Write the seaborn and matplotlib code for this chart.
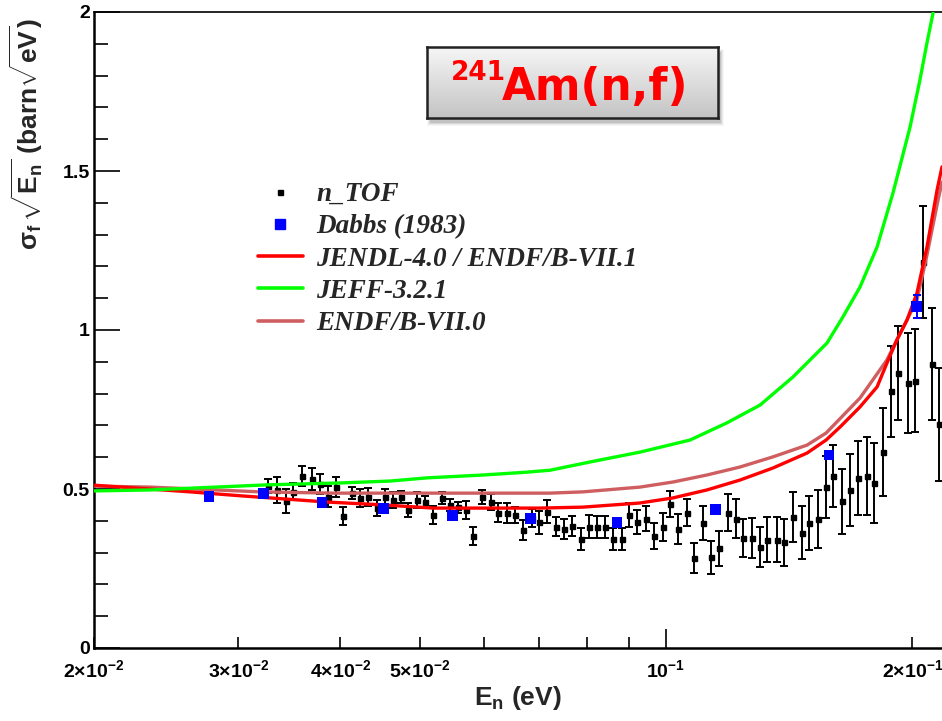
import numpy as np
import matplotlib
matplotlib.use("Agg")
import matplotlib.pyplot as plt
import seaborn as sns
from matplotlib.lines import Line2D
from matplotlib.patches import Rectangle
from matplotlib.colors import LinearSegmentedColormap
from matplotlib.ticker import FixedLocator, FuncFormatter, MultipleLocator, FixedFormatter

# ---------------- data ----------------
# n_TOF measurement: neutron energy (eV), sigma_f*sqrt(E) (barn sqrt(eV)), uncertainty
ntof_energy = [0.03264, 0.03347, 0.03433, 0.03501, 0.03591, 0.03694, 0.03778, 0.03864, 0.03952, 0.04030,
               0.04134, 0.04228, 0.04324, 0.04435, 0.04536, 0.04639, 0.04745, 0.04839, 0.04963, 0.05076,
               0.05192, 0.05325, 0.05446, 0.05570, 0.05697, 0.05810, 0.05959, 0.06112, 0.06233, 0.06393,
               0.06539, 0.06688, 0.06859, 0.06996, 0.07155, 0.07338, 0.07505, 0.07676, 0.07873, 0.08052,
               0.08236, 0.08423, 0.08615, 0.08836, 0.09011, 0.09217, 0.09453, 0.09668, 0.09916, 0.1011,
               0.1034, 0.1061, 0.1082, 0.1110, 0.1135, 0.1161, 0.1191, 0.1218, 0.1242, 0.1274,
               0.1303, 0.1329, 0.1367, 0.1394, 0.1429, 0.1466, 0.1495, 0.1534, 0.1569, 0.1600,
               0.1641, 0.1678, 0.1716, 0.1760, 0.1795, 0.1841, 0.1883, 0.1921, 0.1976, 0.2015,
               0.2061, 0.2114, 0.2156]
ntof_sigma = [0.509, 0.497, 0.462, 0.491, 0.541, 0.531, 0.516, 0.475, 0.506, 0.415,
              0.487, 0.472, 0.475, 0.440, 0.475, 0.465, 0.475, 0.434, 0.465, 0.459,
              0.418, 0.472, 0.450, 0.443, 0.434, 0.352, 0.475, 0.459, 0.425, 0.425,
              0.418, 0.371, 0.409, 0.396, 0.428, 0.381, 0.374, 0.384, 0.343, 0.381,
              0.381, 0.381, 0.343, 0.343, 0.418, 0.396, 0.406, 0.352, 0.381, 0.453,
              0.374, 0.425, 0.283, 0.393, 0.286, 0.314, 0.425, 0.406, 0.346, 0.346,
              0.318, 0.340, 0.340, 0.333, 0.412, 0.362, 0.393, 0.406, 0.506, 0.541,
              0.462, 0.497, 0.535, 0.541, 0.519, 0.616, 0.808, 0.865, 0.833, 0.840,
              1.214, 0.893, 0.704]
ntof_err = [0.022, 0.042, 0.039, 0.027, 0.031, 0.035, 0.031, 0.033, 0.031, 0.028,
            0.020, 0.028, 0.028, 0.024, 0.025, 0.024, 0.019, 0.022, 0.025, 0.020,
            0.028, 0.020, 0.019, 0.017, 0.028, 0.028, 0.022, 0.024, 0.030, 0.031,
            0.025, 0.030, 0.028, 0.036, 0.036, 0.030, 0.031, 0.031, 0.035, 0.036,
            0.035, 0.035, 0.035, 0.035, 0.038, 0.039, 0.039, 0.041, 0.044, 0.042,
            0.046, 0.042, 0.047, 0.052, 0.052, 0.055, 0.058, 0.061, 0.061, 0.063,
            0.064, 0.071, 0.071, 0.074, 0.079, 0.083, 0.086, 0.090, 0.097, 0.097,
            0.102, 0.113, 0.116, 0.123, 0.127, 0.138, 0.143, 0.149, 0.156, 0.162,
            0.176, 0.176, 0.178]

# Dabbs (1983)
dabbs_energy = [0.02764, 0.03219, 0.03799, 0.04521, 0.05490, 0.06821, 0.08712, 0.1148, 0.1582, 0.2026]
dabbs_sigma = [0.475, 0.487, 0.459, 0.440, 0.418, 0.406, 0.396, 0.437, 0.607, 1.075]
dabbs_err = [0.008, 0.008, 0.008, 0.008, 0.008, 0.008, 0.008, 0.008, 0.010, 0.036]

# Evaluated libraries
jendl_energy = [0.02, 0.02621, 0.03042, 0.03282, 0.03853, 0.04510, 0.05192, 0.07015, 0.07918, 0.09295,
                0.1020, 0.1122, 0.1231, 0.1351, 0.1487, 0.1569, 0.1632, 0.1726, 0.1811, 0.1862,
                0.1915, 0.1970, 0.2026, 0.2084, 0.2144, 0.2174]
jendl_sigma = [0.512, 0.491, 0.478, 0.472, 0.459, 0.450, 0.440, 0.440, 0.443, 0.456,
               0.472, 0.497, 0.528, 0.566, 0.613, 0.654, 0.695, 0.758, 0.821, 0.896,
               0.969, 1.031, 1.116, 1.261, 1.440, 1.513]

jeff_energy = [0.02, 0.02341, 0.03254, 0.03996, 0.04600, 0.05105, 0.05976, 0.06763, 0.07215, 0.08075,
               0.09295, 0.1070, 0.1187, 0.1303, 0.1429, 0.1500, 0.1573, 0.1645, 0.1726, 0.1811,
               0.1894, 0.1987, 0.2043, 0.2084, 0.2120]
jeff_sigma = [0.494, 0.497, 0.513, 0.519, 0.525, 0.535, 0.544, 0.553, 0.559, 0.585,
              0.616, 0.654, 0.708, 0.764, 0.852, 0.906, 0.959, 1.041, 1.135, 1.261,
              1.431, 1.638, 1.786, 1.903, 1.997]

endf70_energy = [0.02, 0.02341, 0.03191, 0.03918, 0.05340, 0.07215, 0.07918, 0.09295, 0.1020, 0.1122,
                 0.1231, 0.1351, 0.1487, 0.1569, 0.1726, 0.1862, 0.1915, 0.2026, 0.2084, 0.2150,
                 0.2174]
endf70_sigma = [0.509, 0.506, 0.491, 0.487, 0.487, 0.487, 0.491, 0.506, 0.522, 0.544,
                0.569, 0.601, 0.638, 0.676, 0.786, 0.906, 0.969, 1.094, 1.236, 1.409,
                1.465]

# axis ticks
x_tick_values = [0.02, 0.03, 0.04, 0.05, 0.1, 0.2]
x_tick_labels = [r"$\mathbf{2{\times}10^{-2}}$", r"$\mathbf{3{\times}10^{-2}}$",
                 r"$\mathbf{4{\times}10^{-2}}$", r"$\mathbf{5{\times}10^{-2}}$",
                 r"$\mathbf{10^{-1}}$", r"$\mathbf{2{\times}10^{-1}}$"]
x_minor_values = [0.02, 0.03, 0.04, 0.05, 0.06, 0.07, 0.08, 0.09, 0.2]
y_tick_values = [0, 0.5, 1, 1.5, 2]
y_tick_labels = ["0", "0.5", "1", "1.5", "2"]

legend_labels = ["n_TOF", "Dabbs (1983)", "JENDL-4.0 / ENDF/B-VII.1", "JEFF-3.2.1", "ENDF/B-VII.0"]

RED = "#FF0000"
GREEN = "#00FF00"
ROSE = "#CF5E61"
BLUE = "#0000FF"

# ---------------- style ----------------
sns.set_style("ticks")
plt.rcParams.update({
    "font.family": ["Liberation Sans", "DejaVu Sans"],
    "mathtext.fontset": "custom",
    "mathtext.rm": "Liberation Sans",
    "mathtext.bf": "Liberation Sans:bold",
    "mathtext.it": "Liberation Sans:italic",
    "mathtext.sf": "Liberation Sans",
})

W, H = 942, 721
fig = plt.figure(figsize=(W / 100, H / 100), dpi=100)
fig.patch.set_facecolor("white")
ax = fig.add_axes([94 / W, (H - 648) / H, 848 / W, 636 / H])
ax.set_facecolor("white")

# measured points with error bars
ax.errorbar(ntof_energy, ntof_sigma, yerr=ntof_err, fmt="s", ms=3.6, color="black",
            ecolor="black", elinewidth=1.4, capsize=2.6, capthick=1.4, zorder=3)

# evaluated curves
sns.lineplot(x=endf70_energy, y=endf70_sigma, color=ROSE, lw=2.4, ax=ax, estimator=None, zorder=4)
sns.lineplot(x=jendl_energy, y=jendl_sigma, color=RED, lw=2.4, ax=ax, estimator=None, zorder=4)
sns.lineplot(x=jeff_energy, y=jeff_sigma, color=GREEN, lw=2.4, ax=ax, estimator=None, zorder=4)

# Dabbs points
ax.errorbar(dabbs_energy, dabbs_sigma, yerr=dabbs_err, fmt="none", ecolor=BLUE,
            elinewidth=1.4, capsize=3.0, capthick=1.4, zorder=5)
sns.scatterplot(x=dabbs_energy, y=dabbs_sigma, marker="s", s=62, color=BLUE,
                edgecolor="none", ax=ax, zorder=6, legend=False)

# ---------------- axes ----------------
ax.set_xscale("log")
ax.set_xlim(0.02, 0.2174)
ax.set_ylim(0, 2)

ax.xaxis.set_major_locator(FixedLocator([0.1]))
ax.xaxis.set_minor_locator(FixedLocator(x_minor_values))
xlab_map = dict(zip(x_tick_values, x_tick_labels))


def x_fmt(v, pos):
    for k, lab in xlab_map.items():
        if abs(v - k) < 1e-9:
            return lab
    return ""


ax.xaxis.set_major_formatter(FuncFormatter(x_fmt))
ax.xaxis.set_minor_formatter(FuncFormatter(x_fmt))
ax.yaxis.set_major_locator(FixedLocator(y_tick_values))
ax.yaxis.set_major_formatter(FixedFormatter(y_tick_labels))
ax.yaxis.set_minor_locator(MultipleLocator(0.1))

ax.tick_params(axis="x", which="major", direction="in", length=13.7, width=1.2,
               pad=8, labelsize=14, colors="black")
ax.tick_params(axis="x", which="minor", direction="in", length=8, width=1.2,
               pad=8, labelsize=14, colors="black")
ax.tick_params(axis="y", which="major", direction="in", length=18.7, width=1.2,
               pad=3, labelsize=14, colors="black")
ax.tick_params(axis="y", which="minor", direction="in", length=10, width=1.2, colors="black")
for lab in ax.get_yticklabels():
    lab.set_fontweight("bold")

for side in ("left", "bottom"):
    ax.spines[side].set_linewidth(1.8)
    ax.spines[side].set_color("black")
ax.spines["top"].set_linewidth(1.2)
ax.spines["top"].set_color("black")
ax.spines["right"].set_visible(False)

ax.set_xlabel(r"$\mathbf{E_n}$ (eV)", fontsize=19, fontweight="bold", loc="right")
ax.xaxis.set_label_coords(0.552, -0.056)
ax.set_ylabel(r"$\mathbf{\sigma_f\,\sqrt{E_n}}$ $\mathbf{(barn\sqrt{eV})}$", fontsize=19,
              fontweight="bold", loc="top")
ax.yaxis.set_label_coords(-0.058, 0.9906)

# ---------------- legend ----------------
handles = [
    Line2D([], [], ls="none", marker="s", ms=3.6, color="black"),
    Line2D([], [], ls="none", marker="s", ms=7.5, color=BLUE),
    Line2D([], [], color=RED, lw=2.6),
    Line2D([], [], color=GREEN, lw=2.6),
    Line2D([], [], color=ROSE, lw=2.6),
]
ax.legend(handles, legend_labels, loc="upper left", bbox_to_anchor=(258 / W, 1 - 182 / H),
          bbox_transform=fig.transFigure, frameon=False, borderpad=0, borderaxespad=0,
          handlelength=1.65, handletextpad=0.5, labelspacing=0.27,
          prop=dict(family="Liberation Serif", weight="bold", style="italic", size=19.5))

# ---------------- title box ----------------
bx, by, bw, bh = 427, 47, 291, 71
for i, a in enumerate([0.10, 0.07, 0.05, 0.03]):
    fig.add_artist(Rectangle(((bx + 3 - i) / W, (H - by - bh - 5 - i) / H),
                             (bw + 2 * i) / W, (bh + 2 * i) / H,
                             transform=fig.transFigure, fc="black", ec="none",
                             alpha=a, zorder=1))
box_ax = fig.add_axes([bx / W, (H - by - bh) / H, bw / W, bh / H], zorder=2)
grad = np.linspace(0, 1, 200).reshape(-1, 1)
box_ax.imshow(grad, aspect="auto", extent=[0, 1, 0, 1], origin="upper",
              cmap=LinearSegmentedColormap.from_list("box", ["#F6F6F6", "#C4C4C4"]))
box_ax.set_xticks([])
box_ax.set_yticks([])
for s in box_ax.spines.values():
    s.set_linewidth(1.8)
    s.set_color("#222222")
    s.set_visible(True)

fig.text(451 / W, 1 - 80 / H, "241", color=RED, fontsize=19, fontweight="bold",
         family="DejaVu Sans", ha="left", va="baseline", zorder=5)
fig.text(502 / W, 1 - 100 / H, "Am(n,f)", color=RED, fontsize=31.5, fontweight="bold",
         family="DejaVu Sans", ha="left", va="baseline", zorder=5)

fig.savefig("out.png", dpi=100, facecolor="white")
